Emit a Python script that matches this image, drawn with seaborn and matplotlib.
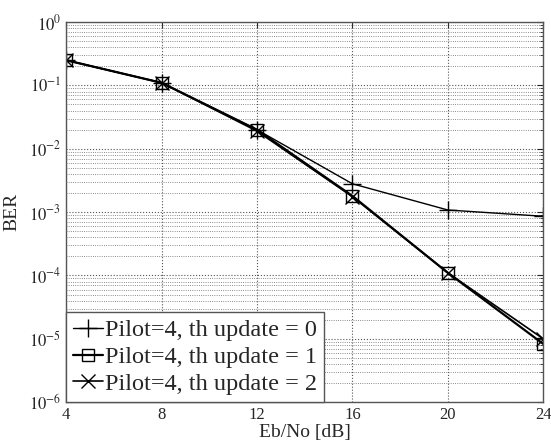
import numpy as np
import pandas as pd
import seaborn as sns
import matplotlib.pyplot as plt
from matplotlib.ticker import LogLocator, NullFormatter

ebno = [4, 8, 12, 16, 20, 24]
ber_th0 = [0.25, 0.11, 0.020, 2.8e-3, 1.08e-3, 8.6e-4]
ber_th1 = [0.25, 0.11, 0.020, 1.8e-3, 1.1e-4, 8.3e-6]
ber_th2 = [0.25, 0.11, 0.019, 1.75e-3, 1.1e-4, 1.0e-5]
labels = ["Pilot=4, th update = 0", "Pilot=4, th update = 1", "Pilot=4, th update = 2"]

sns.set_style("white")
plt.rcParams['font.family'] = ['Liberation Serif', 'DejaVu Serif']
plt.rcParams['mathtext.fontset'] = 'stix'

fig = plt.figure(figsize=(5.51, 4.41), dpi=100)
ax = fig.add_axes([0.12, 0.088, 0.866, 0.862])

sns.lineplot(x=ebno, y=ber_th0, ax=ax, color='black', lw=1.0, marker='+',
             ms=13, mec='black', mew=1.0, label=labels[0])
sns.lineplot(x=ebno, y=ber_th1, ax=ax, color='black', lw=1.6, marker='s',
             ms=9, mfc='none', mec='black', mew=1.0, label=labels[1])
sns.lineplot(x=ebno, y=ber_th2, ax=ax, color='black', lw=1.2, marker='x',
             ms=10, mec='black', mew=1.0, label=labels[2])

ax.set_yscale('log')
ax.set_xlim(4, 24)
ax.set_ylim(1e-6, 1)
ax.set_xticks(ebno)
ax.set_xticklabels([str(v) for v in ebno])
ax.yaxis.set_minor_locator(LogLocator(base=10, subs=np.arange(2, 10), numticks=100))
ax.yaxis.set_minor_formatter(NullFormatter())
ax.set_yticks([10.0 ** k for k in range(-6, 1)])
ax.set_yticklabels([r'$10^{%d}$' % k for k in range(-6, 1)])

ax.grid(True, which='major', axis='both', ls=':', color='#555555', lw=0.8)
ax.grid(True, which='minor', axis='y', ls=':', color='#666666', lw=0.6)
ax.tick_params(which='both', direction='in', labelsize=12, length=4,
               top=True, right=True)
ax.tick_params(which='minor', length=2)
for s in ax.spines.values():
    s.set_color('#555555')
    s.set_linewidth(1.0)

ax.set_xlabel('Eb/No [dB]', fontsize=14, labelpad=1)
ax.set_ylabel('BER', fontsize=14, labelpad=6)

leg = ax.legend(loc='lower left', fontsize=17.5, frameon=True, fancybox=False,
                borderaxespad=0, handlelength=1.2, handletextpad=0.1,
                borderpad=0.3, labelspacing=0.2)
leg.get_frame().set_edgecolor('#555555')
leg.get_frame().set_linewidth(1.0)
leg.get_frame().set_alpha(1)

fig.savefig('out.png', dpi=100)
